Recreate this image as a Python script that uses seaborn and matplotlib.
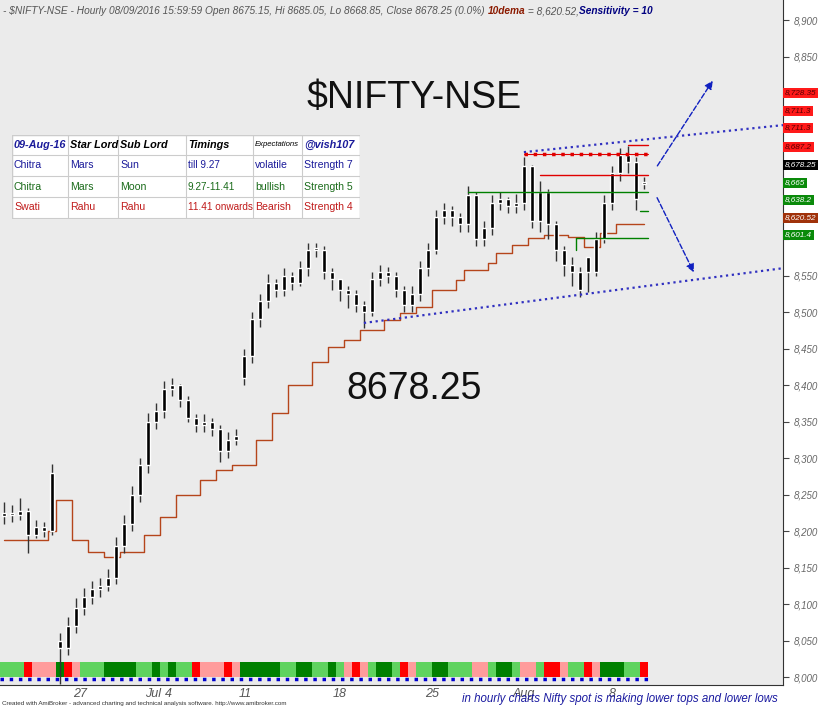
import matplotlib
matplotlib.use("Agg")
import matplotlib.pyplot as plt
import seaborn as sns
import pandas as pd
import numpy as np
from matplotlib.patches import Rectangle

sns.set_style("white")
plt.rcParams['font.family'] = ['Liberation Sans Narrow', 'Liberation Sans', 'DejaVu Sans']

closes = [8225,8222,8228,8195,8205,8200,8280,8040,8070,8095,8110,8120,8125,8135,8180,8210,
          8250,8290,8350,8365,8395,8400,8380,8355,8345,8350,8340,8310,8325,8330,8440,8490,
          8515,8540,8530,8550,8540,8560,8585,8585,8555,8545,8530,8525,8510,8500,8545,8555,
          8550,8530,8510,8525,8560,8585,8630,8640,8630,8620,8660,8600,8615,8650,8655,8645,
          8650,8700,8625,8665,8620,8585,8565,8555,8530,8555,8600,8650,8690,8715,8705,8655,8678.25]
opens = [8220,8225,8222,8228,8195,8205,8200,8050,8040,8070,8095,8110,8120,8125,8135,8180,
         8210,8250,8290,8350,8365,8395,8400,8380,8355,8345,8350,8340,8310,8325,8410,8440,
         8490,8515,8540,8530,8550,8540,8560,8585,8585,8555,8545,8530,8525,8510,8500,8545,
         8555,8550,8530,8510,8525,8560,8585,8630,8640,8630,8620,8660,8600,8615,8650,8655,
         8645,8650,8700,8625,8665,8620,8585,8565,8555,8575,8555,8600,8650,8690,8715,8705,8675.15]
highs = [8240,8235,8245,8232,8215,8212,8292,8060,8082,8108,8122,8132,8135,8148,8192,8222,
         8262,8300,8362,8375,8405,8410,8402,8385,8360,8360,8355,8345,8335,8340,8450,8500,
         8525,8552,8545,8560,8555,8570,8595,8595,8590,8560,8545,8535,8530,8515,8555,8565,
         8562,8555,8535,8535,8570,8595,8640,8650,8645,8635,8672,8665,8625,8660,8665,8658,
         8662,8712,8702,8680,8668,8625,8590,8575,8562,8565,8610,8660,8700,8725,8728,8712,8685.05]
lows = [8210,8212,8215,8170,8190,8192,8195,7990,8030,8060,8085,8100,8110,8118,8128,8170,
        8200,8240,8280,8340,8355,8385,8370,8350,8335,8335,8330,8295,8300,8318,8400,8430,
        8480,8505,8520,8522,8530,8535,8550,8575,8545,8530,8515,8505,8500,8478,8495,8535,
        8540,8520,8500,8500,8515,8550,8580,8620,8618,8610,8610,8590,8590,8605,8640,8635,
        8635,8640,8615,8610,8600,8570,8550,8535,8520,8528,8550,8595,8640,8680,8690,8640,8668.85]
dema = [8188,8188,8188,8188,8188,8188,8200,8243,8243,8188,8188,8171,8171,8165,8165,8171,
        8171,8171,8195,8195,8219,8219,8249,8249,8249,8270,8270,8284,8284,8290,8290,8290,
        8325,8325,8362,8362,8400,8400,8400,8431,8431,8452,8452,8462,8462,8475,8475,8475,
        8489,8489,8499,8499,8507,8507,8530,8530,8530,8544,8558,8558,8558,8567,8581,8581,
        8592,8592,8601,8601,8605,8605,8605,8603,8603,8589,8589,8608,8608,8620.52,8620.52,8620.52,8620.52]
strip = list("gggrpppGrpgggGGGGggGgGggrppprpGGGGGggGGggGgprpgGGgrpggGGgggppgGGgppgrrpggrpGGGggr")
strip_colors = {'g': '#5fd35f', 'G': '#008000', 'p': '#ff9c9c', 'r': '#ff0000'}

tick_pos = [9.5, 18.6, 20.6, 30.1, 42.0, 53.5, 65.0, 76.0]
tick_lbl = ["27", "Jul", "4", "11", "18", "25", "Aug", "8"]

levels_red = [8728.35, 8711.3, 8687.2]
levels_green = [8665, 8638.2, 8601.4]

W, H = 820, 711
fig = plt.figure(figsize=(8.2, 7.11), dpi=100, facecolor='white')
ax = fig.add_axes([0, 26/711, 783/820, 1 - 26/711])
ax.set_facecolor('#ebebeb')
ymin = 8000 - (685-677)/0.73
ymax = 8000 + 677/0.73
ax.set_ylim(ymin, ymax)
ax.set_xlim(-0.5, 97.4)

df = pd.DataFrame({'i': np.arange(len(closes)), 'o': opens, 'c': closes, 'h': highs, 'l': lows, 'dema': dema})

for i, s in enumerate(strip):
    ax.add_patch(Rectangle((i-0.5, 8000), 1, 21, color=strip_colors[s], lw=0, zorder=1))
ax.plot([-0.5, 80.5], [7997, 7997], color='#0000cc', lw=2.5, ls=':', zorder=2)

ax.vlines(df['i'], df['l'], df['h'], color='#333333', lw=1.0, zorder=3)
body_lo = np.minimum(df['o'], df['c'])
body_h = np.maximum(np.abs(df['c'] - df['o']), 2)
ax.bar(df['i'], body_h, bottom=body_lo, width=0.45, color='black', zorder=4)

sns.lineplot(data=df, x='i', y='dema', ax=ax, color='#b5451b', lw=1.0, drawstyle='steps-mid', zorder=2)

ax.plot([65, 80.5], [8716, 8716], color='#e00000', lw=2.5, ls=':', zorder=5)
ax.plot([65, 80.5], [8716, 8716], color='#e00000', lw=0.8, zorder=5)
ax.plot([78, 80.5], [levels_red[0], levels_red[0]], color='#e00000', lw=1, zorder=5)
ax.plot([67, 80.5], [levels_red[2], levels_red[2]], color='#e00000', lw=1, zorder=5)
ax.plot([58, 80.5], [levels_green[0], levels_green[0]], color='#008000', lw=1, zorder=5)
ax.plot([79.5, 80.5], [levels_green[1], levels_green[1]], color='#008000', lw=1, zorder=5)
ax.plot([71.5, 80.5], [levels_green[2], levels_green[2]], color='#008000', lw=1, zorder=5)
ax.plot([71.5, 71.5], [8585, levels_green[2]], color='#008000', lw=1, zorder=5)

ax.plot([45, 97.4], [8485, 8560], color='#3030c0', lw=1.6, ls=':', zorder=5)
ax.plot([65, 97.4], [8719, 8756], color='#3030c0', lw=1.6, ls=':', zorder=5)
ax.annotate('', xy=(88.8, 8820), xytext=(81.5, 8697),
            arrowprops=dict(arrowstyle='-|>', color='#1020c0', lw=1, ls='--', mutation_scale=12))
ax.annotate('', xy=(86.4, 8551), xytext=(81.5, 8660),
            arrowprops=dict(arrowstyle='-|>', color='#1020c0', lw=1, ls='--', mutation_scale=12))

ax.text(51.3, 8793, "$NIFTY-NSE", fontsize=27, ha='center', va='center', color='#111111')
ax.text(51.3, 8395, "8678.25", fontsize=27, ha='center', va='center', color='#111111')

ax.set_xticks(tick_pos)
ax.set_xticklabels(tick_lbl, fontsize=9, style='italic', color='#555555')
ax.yaxis.tick_right()
yt = np.arange(8000, 8901, 50)
ax.set_yticks(yt)
ax.set_yticklabels(["" if 8600 <= v <= 8800 else f"{v:,.0f}" for v in yt],
                   fontsize=7, style='italic', color='#666666')
ax.tick_params(axis='y', length=4, color='#444444', pad=4)
ax.tick_params(axis='x', length=4, direction='in', pad=2)
ax.set_xlabel(''); ax.set_ylabel('')
for s in ['top', 'left']:
    ax.spines[s].set_visible(False)
ax.spines['right'].set_color('#333333')
ax.spines['bottom'].set_color('#333333')

hfs = 7.3
prev = fig.text(3/W, 1 - 11/H, "- $NIFTY-NSE - Hourly 08/09/2016 15:59:59 Open 8675.15, Hi 8685.05, Lo 8668.85, Close 8678.25 (0.0%) ",
                fontsize=hfs, style='italic', color='#555555', va='center')
for txt, col, wt in [("10dema", '#8b1a00', 'bold'), (" = 8,620.52,", '#555555', 'normal'),
                     ("Sensitivity = 10", '#000080', 'bold')]:
    prev = fig.add_artist(matplotlib.text.Annotation(txt, xy=(1, 0.5), xycoords=prev, va='center', ha='left',
                                                    fontsize=hfs, style='italic', color=col, weight=wt))

boxes = [("8,728.35", 93, '#ff1a1a', '#5a0000'), ("8,711.3", 111, '#ff1a1a', '#5a0000'),
         ("8,711.3", 128, '#ff1a1a', '#5a0000'), ("8,687.2", 147, '#ff1a1a', '#5a0000'),
         ("8,678.25", 165, 'black', 'white'), ("8,665", 183, '#0a8a0a', 'white'),
         ("8,638.2", 200, '#0a8a0a', 'white'), ("8,620.52", 218, '#a0320a', 'white'),
         ("8,601.4", 235, '#0a8a0a', 'white')]
for tx, y, bg, fg in boxes:
    fig.text(785/W, 1 - y/H, tx, fontsize=5.9, style='italic', color=fg, va='center', ha='left',
             bbox=dict(boxstyle='square,pad=0.2', fc=bg, ec='none'), zorder=10)

tax = fig.add_axes([12/W, 1 - 219/H, 348/W, 84/H])
tax.set_xlim(12, 360); tax.set_ylim(219, 135)
tax.axis('off')
tax.add_patch(Rectangle((12, 135), 348, 84, fc='white', ec='#cccccc'))
cols = [12, 68, 118, 186, 253, 302, 360]
rows = [135, 155, 176, 197, 218]
for c in cols:
    tax.plot([c, c], [135, 219], color='#cccccc', lw=0.8)
for r in rows:
    tax.plot([12, 360], [r, r], color='#cccccc', lw=0.8)
header = ["09-Aug-16", "Star Lord", "Sub Lord", "Timings", "Expectations", "@vish107"]
table_rows = [["Chitra", "Mars", "Sun", "till 9.27", "volatile", "Strength 7"],
              ["Chitra", "Mars", "Moon", "9.27-11.41", "bullish", "Strength 5"],
              ["Swati", "Rahu", "Rahu", "11.41 onwards", "Bearish", "Strength 4"]]
row_colors = ['#1a1a9a', '#1a6b1a', '#c01a1a']
for j, h in enumerate(header):
    col = '#1a1a9a' if j in (0, 5) else 'black'
    fs = 5.6 if j == 4 else 7.8
    tax.text(cols[j+1]-2 if j == 0 else cols[j]+2, 145, h, fontsize=fs, style='italic',
             weight='bold' if j != 4 else 'normal',
             color=col, va='center', ha='right' if j == 0 else 'left')
for r, row in enumerate(table_rows):
    for j, v in enumerate(row):
        tax.text(cols[j]+2, (rows[r+1]+rows[r+2])/2, v, fontsize=7.6 if j != 3 else 7.2,
                 color=row_colors[r], va='center', ha='left')

fig.text(462/W, 1 - 699/H, "in hourly charts Nifty spot is making lower tops and lower lows",
         fontsize=8.3, style='italic', color='#1a1aa0', va='center')
fig.text(2/W, 1 - 704/H, "Created with AmiBroker - advanced charting and technical analysis software. http://www.amibroker.com",
         fontsize=4.5, color='#333333', va='center')

fig.savefig("out.png", dpi=100, facecolor='white')
